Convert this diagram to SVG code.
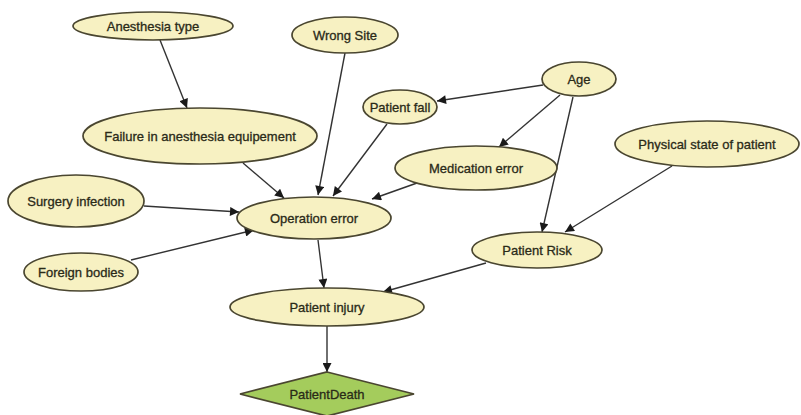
<svg xmlns="http://www.w3.org/2000/svg" width="801" height="415" viewBox="0 0 801 415">
<defs>
<marker id="arr" viewBox="0 0 10 10" refX="10" refY="5" markerWidth="10" markerHeight="9" markerUnits="userSpaceOnUse" orient="auto">
<path d="M0,0 L10,5 L0,10 z" fill="#1a1a1a"/>
</marker>
<style>
.n ellipse{fill:#f7f1c2;stroke:#4a4630;stroke-width:1.7}
.d polygon{fill:#a4cc5c;stroke:#4a4630;stroke-width:1.7}
text{font-family:"Liberation Sans",Arial,sans-serif;font-size:13px;fill:#2a2a18;stroke:#2a2a18;stroke-width:0.3;text-anchor:middle;dominant-baseline:central}
.e line{stroke:#333;stroke-width:1.4;marker-end:url(#arr)}
</style>
</defs>
<rect width="801" height="415" fill="#fff"/>
<g class="e" id="connectors">
<line x1="160" y1="40" x2="187" y2="108"/>
<line x1="345" y1="53" x2="318" y2="195"/>
<line x1="387" y1="124" x2="333" y2="196"/>
<line x1="243" y1="163" x2="284" y2="198"/>
<line x1="543" y1="85" x2="437" y2="101"/>
<line x1="560" y1="95" x2="499" y2="147"/>
<line x1="573" y1="97" x2="542" y2="232"/>
<line x1="417" y1="183" x2="372" y2="199"/>
<line x1="672" y1="166" x2="565" y2="232"/>
<line x1="144" y1="206" x2="239" y2="212"/>
<line x1="131" y1="260" x2="254" y2="230"/>
<line x1="318" y1="240" x2="324" y2="288"/>
<line x1="486" y1="263" x2="383" y2="292"/>
<line x1="327" y1="325" x2="327" y2="372"/>
</g>
<g class="n" id="anesthesia-type"><ellipse cx="153" cy="26" rx="80" ry="14"/><text x="153" y="26">Anesthesia type</text></g>
<g class="n" id="wrong-site"><ellipse cx="345" cy="35" rx="53" ry="18"/><text x="345" y="35">Wrong Site</text></g>
<g class="n" id="patient-fall"><ellipse cx="400" cy="107" rx="37" ry="17"/><text x="400" y="107">Patient fall</text></g>
<g class="n" id="age"><ellipse cx="579" cy="79" rx="37" ry="17"/><text x="579" y="79">Age</text></g>
<g class="n" id="failure"><ellipse cx="200" cy="136" rx="117" ry="28"/><text x="200" y="136">Failure in anesthesia equipement</text></g>
<g class="n" id="medication-error"><ellipse cx="476" cy="168" rx="81" ry="22"/><text x="476" y="168">Medication error</text></g>
<g class="n" id="physical-state"><ellipse cx="707" cy="144" rx="92" ry="23"/><text x="707" y="144">Physical state of patient</text></g>
<g class="n" id="surgery-infection"><ellipse cx="76" cy="201" rx="68" ry="26"/><text x="76" y="201">Surgery infection</text></g>
<g class="n" id="operation-error"><ellipse cx="314" cy="218" rx="77" ry="21"/><text x="314" y="218">Operation error</text></g>
<g class="n" id="foreign-bodies"><ellipse cx="81" cy="272" rx="57" ry="19"/><text x="81" y="272">Foreign bodies</text></g>
<g class="n" id="patient-risk"><ellipse cx="537" cy="250" rx="65" ry="18"/><text x="537" y="250">Patient Risk</text></g>
<g class="n" id="patient-injury"><ellipse cx="327" cy="307" rx="97" ry="19"/><text x="327" y="307">Patient injury</text></g>
<g class="d" id="patient-death"><polygon points="327,372 414,394 327,416 240,394"/><text x="327" y="394">PatientDeath</text></g>
</svg>
